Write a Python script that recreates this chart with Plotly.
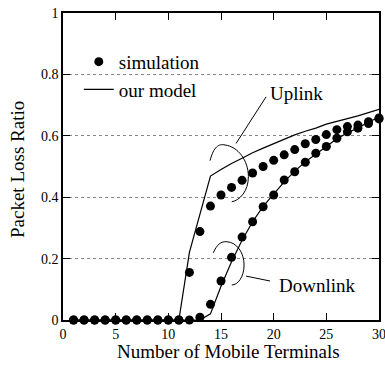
import plotly.graph_objects as go

terminals = list(range(1, 31))

uplink_sim = [0, 0, 0, 0, 0, 0, 0, 0, 0, 0, 0, 0.155, 0.288, 0.371, 0.407, 0.432, 0.455, 0.479,
              0.50, 0.52, 0.538, 0.555, 0.574, 0.588, 0.604, 0.62, 0.63, 0.635, 0.646, 0.658]
downlink_sim = [0, 0, 0, 0, 0, 0, 0, 0, 0, 0, 0, 0, 0.009, 0.051, 0.127, 0.204, 0.27, 0.32,
                0.369, 0.407, 0.456, 0.483, 0.514, 0.543, 0.565, 0.592, 0.613, 0.625, 0.64, 0.655]

uplink_model = [0, 0, 0, 0, 0, 0, 0, 0, 0, 0, 0, 0.22, 0.345, 0.469, 0.49, 0.51, 0.527, 0.545,
                0.56, 0.575, 0.59, 0.603, 0.615, 0.625, 0.638, 0.648, 0.656, 0.665, 0.675, 0.686]
downlink_model = [0, 0, 0, 0, 0, 0, 0, 0, 0, 0, 0, 0, 0, 0.02, 0.11, 0.19, 0.26, 0.32,
                  0.37, 0.41, 0.45, 0.485, 0.515, 0.54, 0.565, 0.59, 0.61, 0.625, 0.645, 0.66]

SERIF = "Liberation Serif"

fig = go.Figure()

# simulation dots
fig.add_trace(go.Scatter(x=terminals, y=uplink_sim, mode='markers', name='simulation',
                         marker=dict(color='black', size=9), cliponaxis=False))
fig.add_trace(go.Scatter(x=terminals, y=downlink_sim, mode='markers', name='simulation',
                         marker=dict(color='black', size=9), cliponaxis=False, showlegend=False))
# model lines
fig.add_trace(go.Scatter(x=terminals, y=uplink_model, mode='lines', name='our model',
                         line=dict(color='black', width=1.2)))
fig.add_trace(go.Scatter(x=terminals, y=downlink_model, mode='lines', name='our model',
                         line=dict(color='black', width=1.2), showlegend=False))

# callout arcs and leaders
arc = dict(type='path', xref='x', yref='y', line=dict(color='black', width=1))
fig.add_shape(path="M 13.96 0.519 C 14.3 0.565, 14.8 0.575, 15.38 0.57 "
                   "C 16.6 0.565, 17.6 0.52, 17.6 0.467 C 17.6 0.42, 16.8 0.39, 16.02 0.385", **arc)
fig.add_shape(path="M 14.27 0.219 C 14.6 0.245, 15.0 0.257, 15.55 0.255 "
                   "C 16.5 0.253, 17.19 0.22, 17.19 0.179 C 17.19 0.14, 16.6 0.114, 16.02 0.114", **arc)
fig.add_shape(type='line', x0=16.43, y0=0.575, x1=19.28, y1=0.727, line=dict(color='black', width=1))
fig.add_shape(type='line', x0=17.38, y0=0.143, x1=19.66, y1=0.127, line=dict(color='black', width=1))

fig.add_annotation(x=22.2, y=0.739, text='Uplink', showarrow=False, font=dict(family=SERIF, size=19))
fig.add_annotation(x=24.17, y=0.111, text='Downlink', showarrow=False, font=dict(family=SERIF, size=19))

# axis titles
fig.add_annotation(xref='paper', yref='paper', x=0.525, y=-0.104, xanchor='center', yanchor='middle',
                   text='Number of Mobile Terminals', showarrow=False, font=dict(family=SERIF, size=19))
fig.add_annotation(xref='paper', yref='paper', x=-0.142, y=0.489, xanchor='center', yanchor='middle',
                   text='Packet Loss Ratio', textangle=-90, showarrow=False, font=dict(family=SERIF, size=19))

axis_common = dict(showline=True, linecolor='black', linewidth=1.5, mirror='allticks',
                   ticks='inside', ticklen=7, tickcolor='black', tickwidth=1.2, automargin=False,
                   ticklabeloverflow='allow',
                   tickfont=dict(family=SERIF, size=14, color='black'), zeroline=False)

fig.update_xaxes(range=[0, 30], dtick=5, showgrid=False, **axis_common)
fig.update_yaxes(range=[0, 1], dtick=0.2, tickformat='~g', showgrid=True, gridcolor='#888',
                 griddash='dot', gridwidth=1, **axis_common)

fig.update_layout(
    width=385, height=370,
    margin=dict(l=63, r=6, t=13, b=50),
    plot_bgcolor='white', paper_bgcolor='white',
    font=dict(family=SERIF, color='black'),
    legend=dict(x=0.05, y=0.903, xanchor='left', yanchor='top', bgcolor='rgba(0,0,0,0)',
                font=dict(family=SERIF, size=19), tracegroupgap=0),
)

# drop the default body margin so the figure sits at the window's corner
fig.write_html("out.html", config={'displayModeBar': False},
               post_script="document.body.style.margin = '0';")
